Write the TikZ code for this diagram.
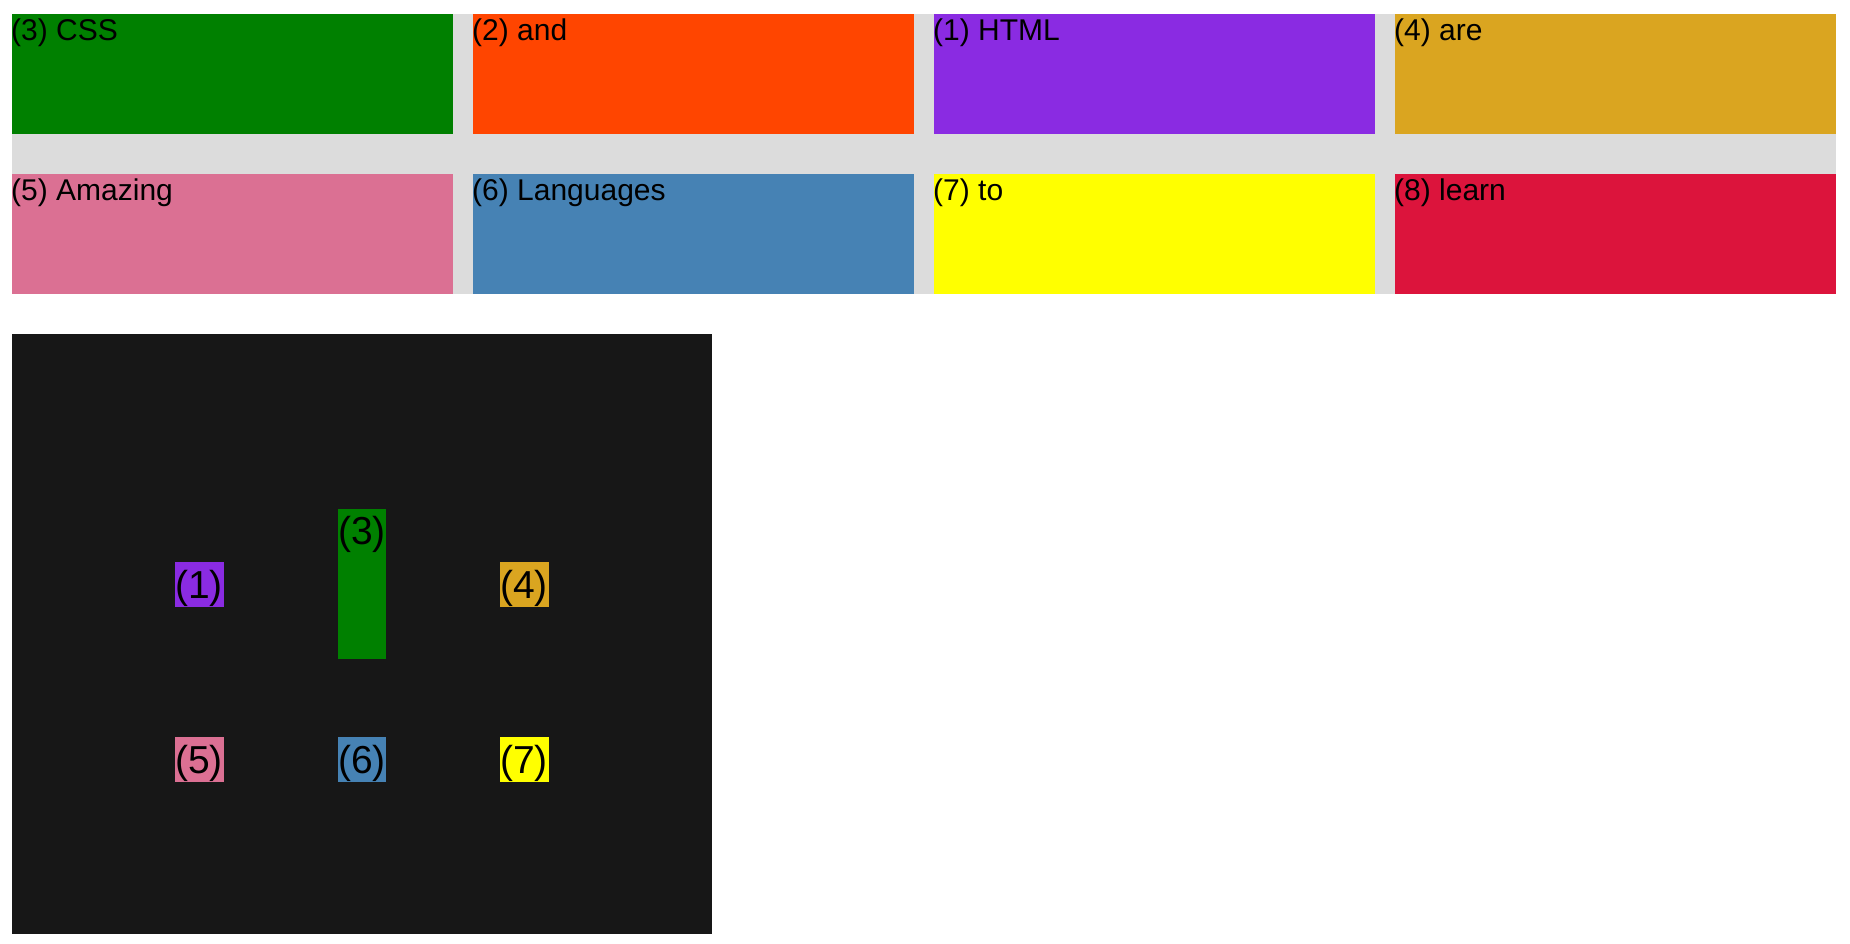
\documentclass[tikz,border=0pt]{standalone}
\usepackage{fontspec}
\setmainfont{Liberation Sans}
\definecolor{cgreen}{HTML}{008000}
\definecolor{corange}{HTML}{FF4500}
\definecolor{cviolet}{HTML}{8A2BE2}
\definecolor{cgold}{HTML}{DAA520}
\definecolor{cpink}{HTML}{DB7093}
\definecolor{csteel}{HTML}{4682B4}
\definecolor{cyellow}{HTML}{FFFF00}
\definecolor{ccrimson}{HTML}{DC143C}
\definecolor{cgrey}{HTML}{DCDCDC}
\definecolor{cdark}{HTML}{171717}
\tikzset{
  bigbox/.style={draw=none, anchor=north west, inner sep=0pt, minimum width=441pt, minimum height=120pt},
  smallbox/.style={draw=none, anchor=north west, inner sep=0pt, minimum width=49pt, minimum height=45pt},
  bigtext/.style={anchor=base west, inner sep=0pt, font=\fontsize{30}{36}\selectfont},
  smalltext/.style={anchor=base west, inner sep=0pt, font=\fontsize{39}{45}\selectfont}
}
\begin{document}
\begin{tikzpicture}[x=1pt,y=-1pt]
\useasboundingbox (0,0) rectangle (1850,943);
% grid container
\fill[cgrey] (12,14) rectangle (1836,294);
\node[bigbox, fill=cgreen]   (b3) at (12,14)   {};
\node[bigbox, fill=corange]  (b2) at (473,14)  {};
\node[bigbox, fill=cviolet]  (b1) at (934,14)  {};
\node[bigbox, fill=cgold]    (b4) at (1395,14) {};
\node[bigbox, fill=cpink]    (b5) at (12,174)  {};
\node[bigbox, fill=csteel]   (b6) at (473,174) {};
\node[bigbox, fill=cyellow]  (b7) at (934,174) {};
\node[bigbox, fill=ccrimson] (b8) at (1395,174){};
\node[bigtext] (t3) at ([shift={(-1,26)}]b3.north west) {(3) CSS};
\node[bigtext] (t2) at ([shift={(-1,26)}]b2.north west) {(2) and};
\node[bigtext] (t1) at ([shift={(-1,26)}]b1.north west) {(1) HTML};
\node[bigtext] (t4) at ([shift={(-1,26)}]b4.north west) {(4) are};
\node[bigtext] (t5) at ([shift={(-1,26)}]b5.north west) {(5) Amazing};
\node[bigtext] (t6) at ([shift={(-1,26)}]b6.north west) {(6) Languages};
\node[bigtext] (t7) at ([shift={(-1,26)}]b7.north west) {(7) to};
\node[bigtext] (t8) at ([shift={(-1,26)}]b8.north west) {(8) learn};
% dark container
\node[draw=none, fill=cdark, anchor=north west, inner sep=0pt, minimum width=700pt, minimum height=600pt] (dark) at (12,334) {};
\node[smallbox, fill=cviolet] (s1) at (175,562) {};
\node[smallbox, fill=cgreen, minimum width=48pt, minimum height=150pt] (s3) at (338,509) {};
\node[smallbox, fill=cgold] (s4) at (500,562) {};
\node[smallbox, fill=cpink] (s5) at (175,737) {};
\node[smallbox, fill=csteel, minimum width=48pt] (s6) at (338,737) {};
\node[smallbox, fill=cyellow] (s7) at (500,737) {};
\node[smalltext] (u1) at ([shift={(0,36)}]s1.north west) {(1)};
\node[smalltext] (u3) at ([shift={(0,35)}]s3.north west) {(3)};
\node[smalltext] (u4) at ([shift={(0,36)}]s4.north west) {(4)};
\node[smalltext] (u5) at ([shift={(0,36)}]s5.north west) {(5)};
\node[smalltext] (u6) at ([shift={(0,36)}]s6.north west) {(6)};
\node[smalltext] (u7) at ([shift={(0,36)}]s7.north west) {(7)};
\end{tikzpicture}
\end{document}
